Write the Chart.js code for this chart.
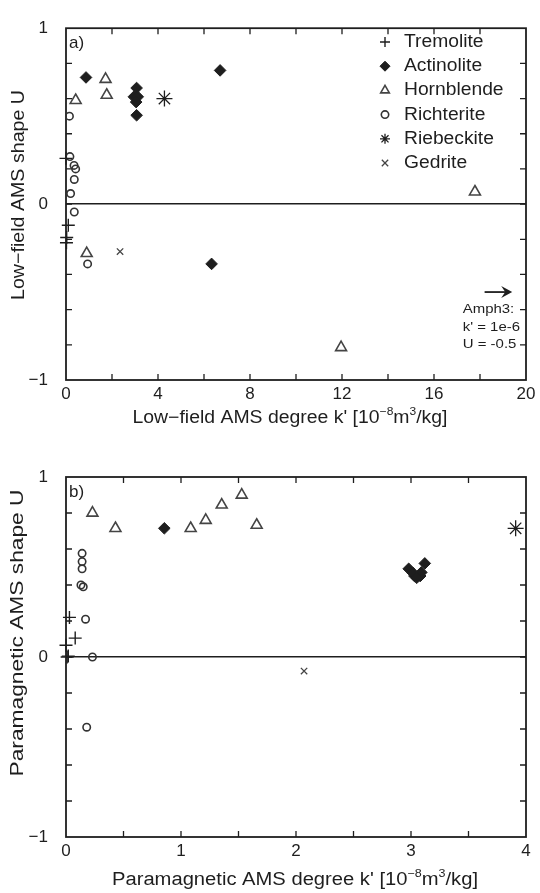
<!DOCTYPE html>
<html>
<head>
<meta charset="utf-8">
<script src="https://cdn.jsdelivr.net/npm/chart.js@4.4.1/dist/chart.umd.min.js"></script>
<style>
  body { margin: 0; background: #fff; }
  canvas { position: absolute; left: 0; }
  #chartA { top: 0; }
  #chartB { top: 440px; }
</style>
</head>
<body>
<canvas id="chartA" width="540" height="440"></canvas>
<canvas id="chartB" width="540" height="453"></canvas>
<script>
// Mineral groups (legend order)
const minerals = ['Tremolite', 'Actinolite', 'Hornblende', 'Richterite', 'Riebeckite', 'Gedrite'];

// a) low-field AMS: degree k' [1e-8 m3/kg] vs shape U
const lowTremolite  = [{x: 0, y: 0.26}, {x: 0.1, y: -0.12}, {x: 0.03, y: -0.19}, {x: 0.02, y: -0.22}];
const lowActinolite = [{x: 0.87, y: 0.72}, {x: 3.07, y: 0.66}, {x: 2.95, y: 0.61}, {x: 3.12, y: 0.61},
                       {x: 3.05, y: 0.58}, {x: 3.07, y: 0.505}, {x: 6.7, y: 0.76}, {x: 6.33, y: -0.34}];
const lowHornblende = [{x: 0.42, y: 0.59}, {x: 1.72, y: 0.71}, {x: 1.77, y: 0.62}, {x: 0.9, y: -0.28},
                       {x: 17.78, y: 0.07}, {x: 11.96, y: -0.815}];
const lowRichterite = [{x: 0.15, y: 0.5}, {x: 0.17, y: 0.27}, {x: 0.35, y: 0.22}, {x: 0.42, y: 0.2},
                       {x: 0.36, y: 0.14}, {x: 0.2, y: 0.06}, {x: 0.36, y: -0.045}, {x: 0.94, y: -0.34}];
const lowRiebeckite = [{x: 4.28, y: 0.6}];
const lowGedrite    = [{x: 2.35, y: -0.27}];

// b) paramagnetic AMS
const paraTremolite  = [{x: 0.03, y: 0.22}, {x: 0.08, y: 0.105}, {x: 0, y: 0.065}, {x: 0.02, y: 0.005}, {x: 0.01, y: 0}];
const paraActinolite = [{x: 0.855, y: 0.715}, {x: 2.98, y: 0.49}, {x: 3.12, y: 0.52}, {x: 3.03, y: 0.45},
                        {x: 3.08, y: 0.45}, {x: 3.02, y: 0.465}, {x: 3.09, y: 0.47}, {x: 3.05, y: 0.44}];
const paraHornblende = [{x: 0.23, y: 0.8}, {x: 0.43, y: 0.715}, {x: 1.084, y: 0.715}, {x: 1.215, y: 0.76},
                        {x: 1.354, y: 0.845}, {x: 1.528, y: 0.9}, {x: 1.658, y: 0.733}];
const paraRichterite = [{x: 0.14, y: 0.576}, {x: 0.14, y: 0.53}, {x: 0.14, y: 0.49}, {x: 0.13, y: 0.4},
                        {x: 0.15, y: 0.39}, {x: 0.17, y: 0.21}, {x: 0.23, y: 0}, {x: 0.18, y: -0.39}];
const paraRiebeckite = [{x: 3.91, y: 0.715}];
const paraGedrite    = [{x: 2.07, y: -0.078}];

// tick labels
const lowXLabels = [0, 4, 8, 12, 16, 20];
const paraXLabels = [0, 1, 2, 3, 4];
const shapeYLabels = [-1, 0, 1];

// off-scale sample note in panel a
const amph3Note = ["Amph3:", "k' = 1e-6", "U = -0.5"];
const amph3U = -0.5;

const FONT = '"Liberation Sans", Arial, Helvetica, sans-serif';
const INK = '#1e1e1e';

const markerStyles = {
  Tremolite:  {pointStyle: 'cross', pointRadius: 6.5, pointBorderColor: INK, pointBackgroundColor: INK, pointBorderWidth: 1.4},
  Actinolite: {pointStyle: 'rectRot', pointRadius: 5.8, pointBorderColor: INK, pointBackgroundColor: INK, pointBorderWidth: 1},
  Hornblende: {pointStyle: 'triangle', pointRadius: 6.3, pointBorderColor: '#444', pointBackgroundColor: 'rgba(0,0,0,0)', pointBorderWidth: 1.6},
  Richterite: {pointStyle: 'circle', pointRadius: 3.7, pointBorderColor: '#333', pointBackgroundColor: 'rgba(0,0,0,0)', pointBorderWidth: 1.6},
  Riebeckite: {pointStyle: 'star', pointRadius: 8, pointBorderColor: INK, pointBackgroundColor: INK, pointBorderWidth: 1.3},
  Gedrite:    {pointStyle: 'crossRot', pointRadius: 4.5, pointBorderColor: '#444', pointBackgroundColor: '#444', pointBorderWidth: 1.3}
};

function fmtNum(v) {
  return v < 0 ? '\u2212' + Math.abs(v) : String(v);
}

// text with superscripts, optionally rotated, stretched to a target width
function drawRich(ctx, parts, x, y, size, width, rotate) {
  ctx.save();
  ctx.translate(x, y);
  if (rotate) ctx.rotate(-Math.PI / 2);
  let total = 0;
  parts.forEach(p => {
    ctx.font = (p.sup ? size * 0.62 : size) + 'px ' + FONT;
    total += ctx.measureText(p.t).width;
  });
  if (width) ctx.scale(width / total, 1);
  ctx.fillStyle = INK;
  ctx.textBaseline = 'middle';
  ctx.textAlign = 'left';
  let cx = -total / 2;
  parts.forEach(p => {
    ctx.font = (p.sup ? size * 0.62 : size) + 'px ' + FONT;
    ctx.fillText(p.t, cx, p.sup ? -size * 0.36 : 0);
    cx += ctx.measureText(p.t).width;
  });
  ctx.restore();
}

function makeDecor(cfg) {
  return {
    id: 'decor',
    beforeDatasetsDraw(chart) {
      const ctx = chart.ctx, a = chart.chartArea;
      const xs = chart.scales.x, ys = chart.scales.y;
      ctx.save();
      ctx.strokeStyle = INK;
      ctx.lineWidth = 1.3;
      ctx.beginPath();
      xs.ticks.forEach(t => {
        const px = xs.getPixelForValue(t.value);
        if (px <= a.left + 1 || px >= a.right - 1) return;
        ctx.moveTo(px, a.bottom); ctx.lineTo(px, a.bottom - 6);
        ctx.moveTo(px, a.top); ctx.lineTo(px, a.top + 6);
      });
      ys.ticks.forEach(t => {
        const py = ys.getPixelForValue(t.value);
        if (py <= a.top + 1 || py >= a.bottom - 1) return;
        ctx.moveTo(a.left, py); ctx.lineTo(a.left + 6, py);
        ctx.moveTo(a.right, py); ctx.lineTo(a.right - 6, py);
      });
      ctx.stroke();
      ctx.lineWidth = 1.8;
      ctx.strokeRect(a.left, a.top, a.right - a.left, a.bottom - a.top);
      ctx.restore();
    },
    afterDraw(chart) {
      const ctx = chart.ctx, a = chart.chartArea;
      ctx.save();
      ctx.fillStyle = INK;
      ctx.font = '17px ' + FONT;
      ctx.textBaseline = 'middle';
      ctx.fillText(cfg.tag, a.left + 3, a.top + 15);
      drawRich(ctx, cfg.xTitle, cfg.xTitlePos[0], cfg.xTitlePos[1], 18, cfg.xTitlePos[2], false);
      drawRich(ctx, cfg.yTitle, cfg.yTitlePos[0], cfg.yTitlePos[1], 18, cfg.yTitlePos[2], true);
      if (cfg.extra) cfg.extra(chart);
      ctx.restore();
    }
  };
}

function drawLegend(chart) {
  const ctx = chart.ctx;
  ctx.save();
  minerals.forEach((name, i) => {
    const st = markerStyles[name];
    const y = 42 + i * 24.2;
    ctx.fillStyle = st.pointBackgroundColor;
    ctx.strokeStyle = st.pointBorderColor;
    ctx.lineWidth = st.pointBorderWidth;
    if (Chart.helpers && Chart.helpers.drawPoint) {
      Chart.helpers.drawPoint(ctx, {pointStyle: st.pointStyle, radius: Math.min(st.pointRadius, 5), borderWidth: st.pointBorderWidth, rotation: 0}, 385, y);
    }
    ctx.save();
    ctx.translate(404, y);
    ctx.scale(1.07, 1);
    ctx.fillStyle = INK;
    ctx.font = '18px ' + FONT;
    ctx.textBaseline = 'middle';
    ctx.fillText(name, 0, 0);
    ctx.restore();
  });
  ctx.restore();
}

function drawAmph3(chart) {
  const ctx = chart.ctx, xs = chart.scales.x, ys = chart.scales.y;
  const py = ys.getPixelForValue(amph3U);
  const x0 = xs.getPixelForValue(18.2), x1 = xs.getPixelForValue(19.4);
  ctx.save();
  ctx.strokeStyle = INK; ctx.fillStyle = INK;
  ctx.lineWidth = 1.8;
  ctx.beginPath(); ctx.moveTo(x0, py); ctx.lineTo(x1 - 6, py); ctx.stroke();
  ctx.beginPath(); ctx.moveTo(x1, py); ctx.lineTo(x1 - 11, py - 6); ctx.lineTo(x1 - 7, py); ctx.lineTo(x1 - 11, py + 6); ctx.closePath(); ctx.fill();
  ctx.font = '13px ' + FONT;
  ctx.textBaseline = 'middle';
  amph3Note.forEach((s, i) => {
    ctx.save();
    ctx.translate(xs.getPixelForValue(17.25), ys.getPixelForValue(-0.6 - 0.1 * i));
    ctx.scale(1.15, 1);
    ctx.fillText(s, 0, 0);
    ctx.restore();
  });
  ctx.restore();
  drawLegend(chart);
}

function buildSets(series) {
  return minerals.map((name, i) => Object.assign({label: name, data: series[i], clip: false, showLine: false}, markerStyles[name]));
}

function makeChart(id, series, xMax, xStep, xLabels, pad, xAxisH, decor) {
  return new Chart(document.getElementById(id), {
    type: 'scatter',
    data: {datasets: buildSets(series)},
    options: {
      responsive: false,
      animation: false,
      devicePixelRatio: 1,
      events: [],
      layout: {padding: pad},
      plugins: {legend: {display: false}, tooltip: {enabled: false}},
      scales: {
        x: {
          type: 'linear', min: 0, max: xMax,
          ticks: {stepSize: xStep, autoSkip: false, maxRotation: 0, padding: 4, color: INK,
                  font: {family: FONT, size: 17},
                  callback: v => xLabels.some(l => Math.abs(l - v) < 1e-6) ? fmtNum(Math.round(v)) : ''},
          grid: {display: false, drawTicks: false},
          border: {display: false},
          afterFit: s => { s.height = xAxisH; }
        },
        y: {
          type: 'linear', min: -1, max: 1,
          ticks: {stepSize: 0.2, autoSkip: false, padding: 18, color: INK,
                  font: {family: FONT, size: 17},
                  callback: v => shapeYLabels.some(l => Math.abs(l - v) < 1e-6) ? fmtNum(Math.round(v)) : ''},
          grid: {drawTicks: false, lineWidth: 1.6,
                 color: c => Math.abs(c.tick.value) < 1e-6 ? INK : 'rgba(0,0,0,0)'},
          border: {display: false},
          afterFit: s => { s.width = 66; }
        }
      }
    },
    plugins: [decor]
  });
}

makeChart('chartA',
  [lowTremolite, lowActinolite, lowHornblende, lowRichterite, lowRiebeckite, lowGedrite],
  20, 2, lowXLabels, {left: 0, right: 14, top: 19, bottom: 0}, 60,
  makeDecor({
    tag: 'a)',
    xTitle: [{t: "Low\u2212field AMS degree k' [10"}, {t: '\u22128', sup: true}, {t: 'm'}, {t: '3', sup: true}, {t: '/kg]'}],
    xTitlePos: [290, 418, 315],
    yTitle: [{t: 'Low\u2212field AMS shape U'}],
    yTitlePos: [19, 195, 210],
    extra: drawAmph3
  }));

makeChart('chartB',
  [paraTremolite, paraActinolite, paraHornblende, paraRichterite, paraRiebeckite, paraGedrite],
  4, 0.5, paraXLabels, {left: 0, right: 14, top: 37, bottom: 0}, 56,
  makeDecor({
    tag: 'b)',
    xTitle: [{t: "Paramagnetic AMS degree k' [10"}, {t: '\u22128', sup: true}, {t: 'm'}, {t: '3', sup: true}, {t: '/kg]'}],
    xTitlePos: [295, 440, 366],
    yTitle: [{t: 'Paramagnetic AMS shape U'}],
    yTitlePos: [18, 193, 287]
  }));
</script>
</body>
</html>
